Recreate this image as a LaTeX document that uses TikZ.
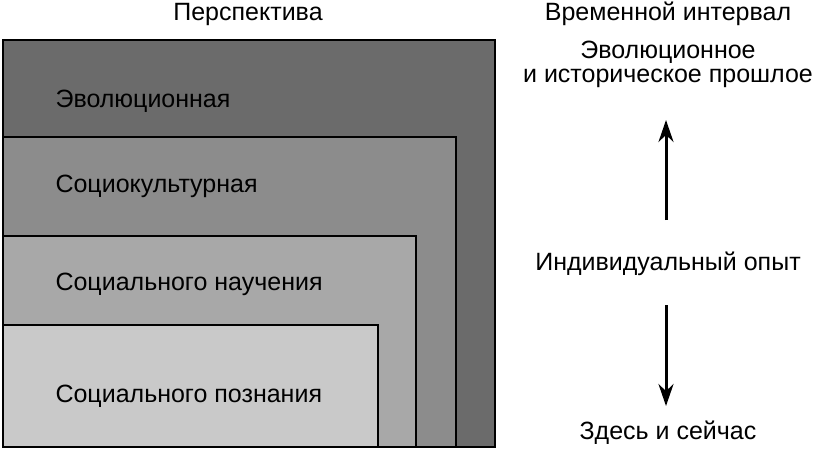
\documentclass[tikz,border=0pt]{standalone}
\usepackage{fontspec}
\setmainfont{Liberation Sans}
\usetikzlibrary{arrows.meta}
\begin{document}
\begin{tikzpicture}[x=1pt,y=-1pt,
  lay/.style={draw=black,line width=1.3pt},
  lbl/.style={anchor=west,font=\fontsize{25}{29}\selectfont},
  hdr/.style={font=\fontsize{25}{29}\selectfont,align=center},
  arr/.style={-{Stealth[length=22pt,width=15pt]},line width=3pt}]
\useasboundingbox (0,0) rectangle (819,458);
\fill[white] (0,0) rectangle (819,458);
\draw[lay,fill=black!58] (3,40) rectangle (495,447);
\draw[lay,fill=black!45] (3,137) rectangle (456,447);
\draw[lay,fill=black!34] (3,236) rectangle (416,447);
\draw[lay,fill=black!21] (3,325) rectangle (378,447);
\node[lbl] (e) at (52,101) {Эволюционная};
\node[lbl] (s) at (52,186) {Социокультурная};
\node[lbl] (n) at (52,284) {Социального научения};
\node[lbl] (p) at (52,396) {Социального познания};
\node[hdr] (h1) at (248,14) {Перспектива};
\node[hdr] (h2) at (668,14) {Временной интервал};
\node[hdr] (past1) at (668,52) {Эволюционное};
\node[hdr] (past2) at (668,78) {и историческое прошлое};
\node[hdr] (ind) at (668,264) {Индивидуальный опыт};
\node[hdr] (now) at (668,433) {Здесь и сейчас};
\coordinate (a1) at (666,220);
\coordinate (a2) at (666,120);
\coordinate (b1) at (666,305);
\coordinate (b2) at (666,406);
\draw[arr] (a1) -- (a2);
\draw[arr] (b1) -- (b2);
\end{tikzpicture}
\end{document}
